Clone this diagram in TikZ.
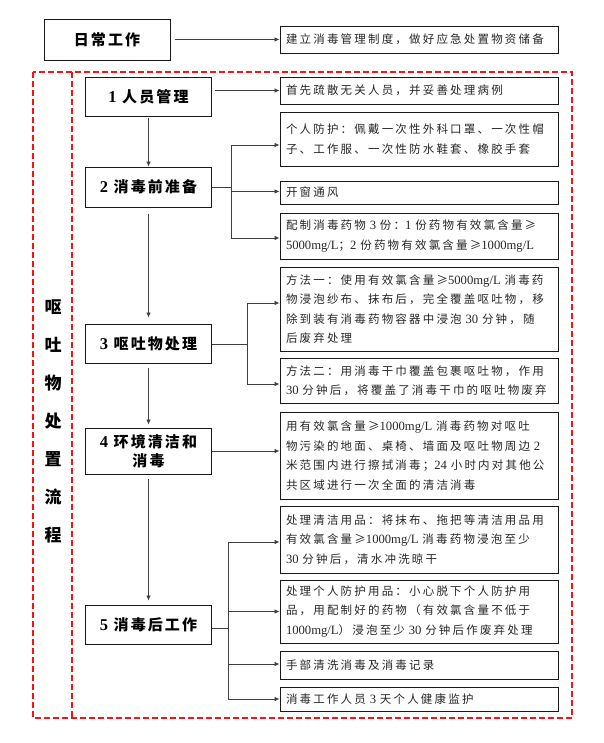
\documentclass[tikz,border=0pt]{standalone}
\usepackage{fontspec}
\usetikzlibrary{arrows.meta}
\newfontfamily\cjk[LetterSpace=19]{Noto Sans CJK SC}
\newfontfamily\cjkb[LetterSpace=14]{Noto Sans CJK SC}
\newfontfamily\latf[Scale=1.1]{Liberation Serif}
\newcommand\LT[1]{{\latf #1}}
\definecolor{dashred}{HTML}{FF1010}
\definecolor{linegray}{HTML}{404040}
\tikzset{
  lbox/.style={draw=black!90, line width=0.9pt, minimum width=126pt, inner sep=2pt,
    align=center, font=\cjkb\bfseries\fontsize{15}{19}\selectfont},
  rbox/.style={draw=black!90, line width=0.9pt, minimum width=278pt, inner xsep=6pt, inner ysep=1pt,
    text width=266pt, align=left, font=\cjk\fontsize{11.5}{19.5}\selectfont, text=black!85},
  conn/.style={draw=linegray, line width=0.8pt},
  arr/.style={conn, -{Latex[length=5pt,width=4.5pt]}},
  reddash/.style={draw=dashred, line width=2.4pt, dash pattern=on 6pt off 3pt},
}
\begin{document}
\begin{tikzpicture}[x=1pt,y=-1pt]
\useasboundingbox (0,0) rectangle (603,743);

% red dashed frame
\draw[reddash] (33,72) rectangle (572,718);
\draw[reddash, line width=1.8pt] (72,72) -- (72,718);
\node[font=\cjkb\bfseries\fontsize{17}{38}\selectfont, align=center, inner sep=0pt] (title) at (53,421)
  {呕\\吐\\物\\处\\置\\流\\程};

% left boxes
\node[lbox, minimum height=41pt] (d0) at (107,39.5) {日常工作};
\node[lbox, minimum height=39pt] (b1) at (148.5,96.5) {\LT{1} 人员管理};
\node[lbox, minimum height=40pt] (b2) at (148.5,187) {\LT{2} 消毒前准备};
\node[lbox, minimum height=39pt] (b3) at (148.5,343.5) {\LT{3} 呕吐物处理};
\node[lbox, minimum height=46pt, font=\cjkb\bfseries\fontsize{15}{18.5}\selectfont] (b4) at (148.5,451) {\LT{4} 环境清洁和\\消毒};
\node[lbox, minimum height=39pt] (b5) at (148.5,624.5) {\LT{5} 消毒后工作};

% right boxes
\node[rbox, minimum height=27pt] (r0) at (419,39.5) {建立消毒管理制度，做好应急处置物资储备};
\node[rbox, minimum height=27pt] (r1) at (419,90.5) {首先疏散无关人员，并妥善处理病例};
\node[rbox, minimum height=54pt] (r2a) at (419,139) {个人防护：佩戴一次性外科口罩、一次性帽\\子、工作服、一次性防水鞋套、橡胶手套};
\node[rbox, minimum height=23pt] (r2b) at (419,192.5) {开窗通风};
\node[rbox, minimum height=46pt] (r2c) at (419,236) {配制消毒药物 \LT{3} 份：\LT{1} 份药物有效氯含量≥\\\LT{5000mg/L}；\LT{2} 份药物有效氯含量≥\LT{1000mg/L}};
\node[rbox, minimum height=84pt] (r3a) at (419,309) {方法一：使用有效氯含量≥\LT{5000mg/L} 消毒药\\物浸泡纱布、抹布后，完全覆盖呕吐物，移\\除到装有消毒药物容器中浸泡 \LT{30} 分钟，随\\后废弃处理};
\node[rbox, minimum height=45pt] (r3b) at (419,380.5) {方法二：用消毒干巾覆盖包裹呕吐物，作用\\\LT{30} 分钟后，将覆盖了消毒干巾的呕吐物废弃};
\node[rbox, minimum height=87pt] (r4) at (419,455.5) {用有效氯含量≥\LT{1000mg/L} 消毒药物对呕吐\\物污染的地面、桌椅、墙面及呕吐物周边 \LT{2}\\米范围内进行擦拭消毒；\LT{24} 小时内对其他公\\共区域进行一次全面的清洁消毒};
\node[rbox, minimum height=67pt] (r5a) at (419,539.5) {处理清洁用品：将抹布、拖把等清洁用品用\\有效氯含量≥\LT{1000mg/L} 消毒药物浸泡至少\\\LT{30} 分钟后，清水冲洗晾干};
\node[rbox, minimum height=63pt] (r5b) at (419,611.5) {处理个人防护用品：小心脱下个人防护用\\品，用配制好的药物（有效氯含量不低于\\\LT{1000mg/L}）浸泡至少 \LT{30} 分钟后作废弃处理};
\node[rbox, minimum height=28pt] (r5c) at (419,665) {手部清洗消毒及消毒记录};
\node[rbox, minimum height=24pt] (r5d) at (419,699) {消毒工作人员 \LT{3} 天个人健康监护};

% vertical flow
\draw[arr, shorten <=2pt] (b1.south) -- (b2.north);
\draw[arr, shorten <=7pt, shorten >=6pt] (b2.south) -- (b3.north);
\draw[arr, shorten <=5pt, shorten >=3pt] (b3.south) -- (b4.north);
\draw[arr, shorten <=5pt, shorten >=4pt] (b4.south) -- (b5.north);

% single arrows
\draw[arr, shorten <=5pt] (d0.east) -- (r0.west);
\draw[arr, shorten <=3pt] (b1.east |- r1.west) -- (r1.west);
\draw[arr] (b4.east) -- (b4.east -| r4.west);

% branch 2
\coordinate (k2) at (231,187);
\coordinate (a2a) at ([yshift=-6pt]r2a.west);
\coordinate (a2b) at ([yshift=1pt]r2b.west);
\coordinate (a2c) at ([yshift=-2pt]r2c.west);
\draw[conn] (b2.east) -- (k2);
\draw[conn] (k2 |- a2a) -- (k2 |- a2c);
\draw[arr] (k2 |- a2a) -- (a2a);
\draw[arr] (k2 |- a2b) -- (a2b);
\draw[arr] (k2 |- a2c) -- (a2c);

% branch 3
\coordinate (k3) at (247,344);
\coordinate (a3a) at ([yshift=6pt]r3a.west);
\coordinate (a3b) at ([yshift=-3.5pt]r3b.west);
\draw[conn] (b3.east |- k3) -- (k3);
\draw[conn] (k3 |- a3a) -- (k3 |- a3b);
\draw[arr] (k3 |- a3a) -- (a3a);
\draw[arr] (k3 |- a3b) -- (a3b);

% branch 5
\coordinate (k5) at (228,628);
\coordinate (a5a) at ([yshift=-2.5pt]r5a.west);
\coordinate (a5b) at (r5b.west);
\coordinate (a5c) at ([yshift=1pt]r5c.west);
\coordinate (a5d) at (r5d.west);
\draw[conn] (b5.east |- k5) -- (k5);
\draw[conn] (k5 |- a5a) -- (k5 |- a5d);
\draw[arr] (k5 |- a5a) -- (a5a);
\draw[arr] (k5 |- a5b) -- (a5b);
\draw[arr] (k5 |- a5c) -- (a5c);
\draw[arr] (k5 |- a5d) -- (a5d);
\end{tikzpicture}
\end{document}
